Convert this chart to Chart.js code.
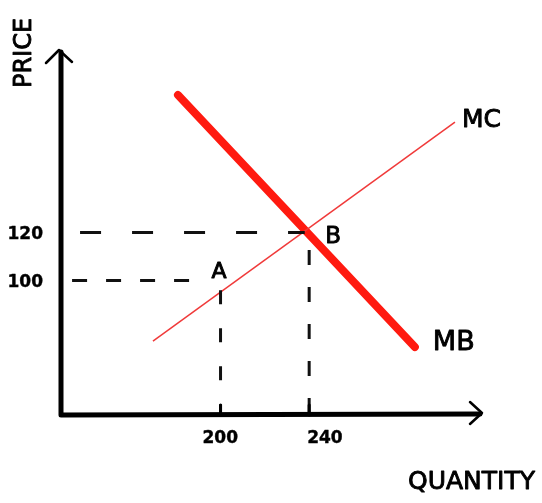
<!DOCTYPE html>
<html>
<head>
<meta charset="utf-8">
<script src="https://cdn.jsdelivr.net/npm/chart.js@4"></script>
<style>
  html, body { margin: 0; padding: 0; background: #fff; }
  #wrap { width: 542px; height: 503px; }
</style>
</head>
<body>
<div id="wrap"><canvas id="chart" width="542" height="503"></canvas></div>
<script>
// axis range (data units)
const xRange = [128, 318];
const yRange = [44, 196];

// tick labels
const xTicks = [200, 240];
const yTicks = [100, 120];

// curves
const mbCurve = [{ x: 180.8, y: 177.3 }, { x: 287.7, y: 72.3 }];
const mcCurve = [{ x: 169.5, y: 74.8 }, { x: 305.8, y: 166 }];

// dashed guide lines
const guide120 = [{ x: 136.6, y: 120 }, { x: 238, y: 120 }];
const guide100 = [{ x: 133, y: 100 }, { x: 189.8, y: 100 }];
const guideQ200 = [{ x: 200, y: 96 }, { x: 200, y: 44 }];
const guideQ240 = [{ x: 240, y: 112.7 }, { x: 240, y: 44 }];

// labelled points
const pointA = { x: 200, y: 100 };
const pointB = { x: 240, y: 120 };

const FONT = '"DejaVu Sans", sans-serif';

const line = (data, color, width, dash, cap) => ({
  data: data,
  showLine: true,
  borderColor: color,
  borderWidth: width,
  borderDash: dash || [],
  borderCapStyle: cap || 'butt',
  pointRadius: 0,
  pointHoverRadius: 0
});

// marker-ish text: fill plus a thin stroke
function ink(ctx, text, x, y, weight) {
  ctx.lineWidth = weight || 0.9;
  ctx.fillText(text, x, y);
  ctx.strokeText(text, x, y);
}

const sketchPlugin = {
  id: 'sketch',
  afterDatasetsDraw(chart) {
    const ctx = chart.ctx;
    const xs = chart.scales.x, ys = chart.scales.y;
    const a = chart.chartArea;
    ctx.save();
    ctx.strokeStyle = '#000';
    ctx.fillStyle = '#000';
    ctx.lineCap = 'round';
    ctx.lineJoin = 'round';

    // axes
    ctx.lineWidth = 5;
    ctx.beginPath();
    ctx.moveTo(a.left, a.top + 2);
    ctx.lineTo(a.left, a.bottom);
    ctx.lineTo(a.right - 2, a.bottom - 1);
    ctx.stroke();

    // arrow heads
    ctx.lineWidth = 2.5;
    ctx.beginPath();
    ctx.moveTo(a.left - 15, a.top + 13);
    ctx.lineTo(a.left - 2, a.top);
    ctx.lineTo(a.left + 11, a.top + 12);
    ctx.moveTo(a.right - 12, a.bottom - 13);
    ctx.lineTo(a.right, a.bottom - 2);
    ctx.lineTo(a.right - 12, a.bottom + 9);
    ctx.stroke();

    // tick marks on the quantity axis
    ctx.lineWidth = 3;
    xTicks.forEach(v => {
      const px = xs.getPixelForValue(v);
      ctx.beginPath();
      ctx.moveTo(px, a.bottom - 10);
      ctx.lineTo(px, a.bottom);
      ctx.stroke();
    });

    // tick labels
    ctx.font = 'bold 17px ' + FONT;
    ctx.textBaseline = 'middle';
    ctx.textAlign = 'right';
    yTicks.forEach(v => {
      ink(ctx, String(v), a.left - 18, ys.getPixelForValue(v) + 2, 0.4);
    });
    ctx.textAlign = 'left';
    const xOff = [-18, -2];
    xTicks.forEach((v, i) => {
      ink(ctx, String(v), xs.getPixelForValue(v) + xOff[i], a.bottom + 24, 0.4);
    });

    // axis titles
    ctx.font = '24px ' + FONT;
    ctx.save();
    ctx.translate(25, 53);
    ctx.rotate(-Math.PI / 2);
    ctx.textAlign = 'center';
    ink(ctx, 'PRICE', 0, 0);
    ctx.restore();
    ctx.font = '25px ' + FONT;
    ctx.textAlign = 'left';
    ink(ctx, 'QUANTITY', 408, 482);

    // curve labels
    const mcEnd = mcCurve[mcCurve.length - 1];
    const mbEnd = mbCurve[mbCurve.length - 1];
    ctx.font = '25px ' + FONT;
    ink(ctx, 'MC', xs.getPixelForValue(mcEnd.x) + 7, ys.getPixelForValue(mcEnd.y) - 2);
    ctx.font = '27px ' + FONT;
    ink(ctx, 'MB', xs.getPixelForValue(mbEnd.x) + 18, ys.getPixelForValue(mbEnd.y) - 4);

    // point labels
    ctx.font = '22px ' + FONT;
    ink(ctx, 'A', xs.getPixelForValue(pointA.x) - 9, ys.getPixelForValue(pointA.y) - 8);
    ctx.font = '23px ' + FONT;
    ink(ctx, 'B', xs.getPixelForValue(pointB.x) + 16, ys.getPixelForValue(pointB.y) + 5);

    ctx.restore();
  }
};

new Chart(document.getElementById('chart'), {
  type: 'scatter',
  data: {
    datasets: [
      line(guide120, '#111', 3, [21, 31]),
      line(guide100, '#111', 3, [15, 19]),
      line(guideQ200, '#111', 3, [14, 24]),
      line(guideQ240, '#111', 3, [15, 22]),
      line(mcCurve, '#f03a3a', 1.5),
      line(mbCurve, '#ff1a10', 8, null, 'round')
    ]
  },
  options: {
    responsive: false,
    animation: false,
    layout: { padding: { left: 61, right: 60, top: 50, bottom: 88 } },
    plugins: { legend: { display: false }, tooltip: { enabled: false } },
    scales: {
      x: { type: 'linear', display: false, min: xRange[0], max: xRange[1] },
      y: { type: 'linear', display: false, min: yRange[0], max: yRange[1] }
    }
  },
  plugins: [sketchPlugin]
});
</script>
</body>
</html>
